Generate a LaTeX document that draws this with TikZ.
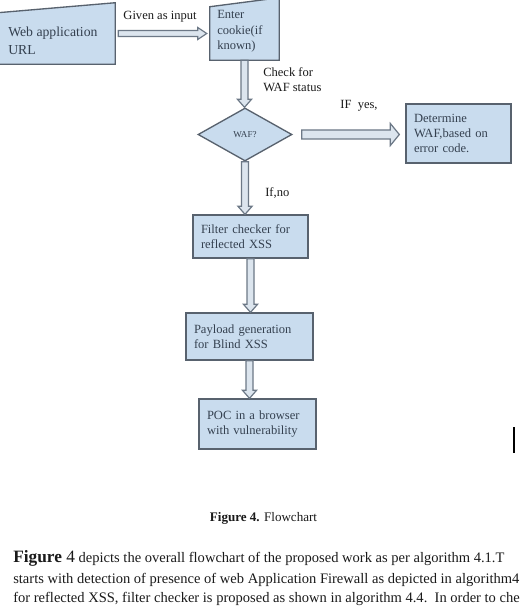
\documentclass[tikz,border=0pt]{standalone}
\usepackage{fontspec}
\setmainfont{Liberation Serif}
\usetikzlibrary{calc,shapes.geometric,positioning}
\definecolor{boxfill}{HTML}{C9DCEE}
\definecolor{boxline}{HTML}{58626E}
\definecolor{arrowfill}{HTML}{DCE5EE}
\definecolor{arrowline}{HTML}{6C7886}
\definecolor{boxtext}{HTML}{34404F}
\definecolor{captext}{HTML}{1A1A1A}
\tikzset{
  procbox/.style={draw=boxline, fill=boxfill, line width=1pt, inner xsep=6pt, inner ysep=0pt, align=left, text=boxtext, font=\fontsize{9.4}{11.3}\selectfont},
  inputbox/.style={draw=none, inner sep=0pt},
  inputline/.style={draw=boxline, fill=boxfill, line width=1pt},
  inputtext/.style={anchor=west, inner sep=0pt, align=left, text=boxtext},
  decision/.style={diamond, draw=boxline, fill=boxfill, line width=1pt, inner sep=0pt, text=boxtext, font=\fontsize{6.8}{8}\selectfont},
  blockarrow/.style={draw=arrowline, fill=arrowfill, line width=0.9pt, line join=miter},
  flowlab/.style={text=captext, inner sep=0pt, align=left, font=\fontsize{9.4}{11.3}\selectfont},
  bodytext/.style={text=captext, anchor=base west, inner sep=0pt, font=\fontsize{10.9}{12}\selectfont},
}
% hollow block arrows between named nodes
\newcommand{\vblock}[2]{%
  \draw[blockarrow] ($(#1.south)+(-3.5,0)$) -- ($(#1.south |- #2.north)+(-3.5,-8)$)
    -- ++(-3.5,0) -- (#1.south |- #2.north) -- ++(7,-8) -- ++(-3.5,0)
    -- ($(#1.south)+(3.5,0)$) -- cycle;}
\newcommand{\hblock}[6]{%
  \draw[blockarrow] ($(#1.east)+(#5,-#3)$) -- ($(#2.west |- #1.east)+(-#6-9,-#3)$)
    -- ++(0,#3-#4) -- ++(9,#4) -- ++(-9,#4) -- ++(0,#3-#4)
    -- ($(#1.east)+(#5,#3)$) -- cycle;}

\begin{document}
\begin{tikzpicture}[x=0.75pt,y=-0.75pt]
  \useasboundingbox (0,0) rectangle (519,606);
  \fill[white] (0,0) rectangle (519,606);
  \clip (0,0) rectangle (519,606);

  \node[inputbox, minimum width=87.75pt, minimum height=45.75pt] (web) at (56.5,33.5) {};
  \draw[inputline] (web.south west) -- (web.south east) -- (web.north east) -- ($(web.north west)+(0,10)$) -- cycle;
  \node[inputtext, font=\fontsize{10.3}{13.5}\selectfont] (webtxt) at (8,41) {Web application\\URL};

  \node[inputbox, minimum width=51.75pt, minimum height=46.5pt] (cookie) at (244.5,29) {};
  \draw[inputline] (cookie.south west) -- (cookie.south east) -- (cookie.north east) -- ($(cookie.north west)+(0,9)$) -- cycle;
  \node[inputtext, font=\fontsize{9.4}{11.6}\selectfont] (cookietxt) at (217,31.5) {Enter\\cookie(if\\known)};

  \node[decision, minimum width=70.5pt, minimum height=39.75pt] (waf) at (245,134.5) {WAF?};
  \node[procbox, minimum height=44.25pt, text width=66.75pt] (detwaf) at (458.5,133.5) {Determine\\WAF,based on\\error code.};
  \node[procbox, minimum height=32.25pt, text width=74.25pt] (filter) at (250.5,236.5) {Filter checker for\\reflected XSS};
  \node[procbox, minimum height=35.25pt, text width=83.25pt] (payload) at (249.5,336.5) {Payload generation\\for Blind XSS};
  \node[procbox, minimum height=37.5pt, text width=75.75pt] (poc) at (257.5,424) {POC in a browser\\with vulnerability};

  \hblock{web}{cookie}{3}{6}{3}{3}
  \vblock{cookie}{waf}
  \hblock{waf}{detwaf}{4.5}{11}{9}{6}
  \vblock{waf}{filter}
  \vblock{filter}{payload}
  \vblock{payload}{poc}

  \node[flowlab] (inlab) at (160,17) {Given as input};
  \node[flowlab, anchor=west] (checklab) at (263,79.5) {Check for\\WAF status};
  \node[flowlab] (yeslab) at (359,106) {IF\ \ yes,};
  \node[flowlab, anchor=west] (nolab) at (265,193) {If,no};

  \draw[line width=0.8pt] (514,427) -- (514,453);

  \node[text=captext, inner sep=0pt, font=\fontsize{9.8}{12}\selectfont] (caption) at (263.5,518) {\textbf{Figure 4.} Flowchart};
  \node[bodytext] (line1) at (13,562) {{\fontsize{13}{14}\selectfont\textbf{Figure} 4} depicts the overall flowchart of the proposed work as per algorithm 4.1.T};
  \node[bodytext] (line2) at (13,583) {starts with detection of presence of web Application Firewall as depicted in algorithm4};
  \node[bodytext] (line3) at (13,602) {for reflected XSS, filter checker is proposed as shown in algorithm 4.4.\ \ In order to che};
\end{tikzpicture}
\end{document}
